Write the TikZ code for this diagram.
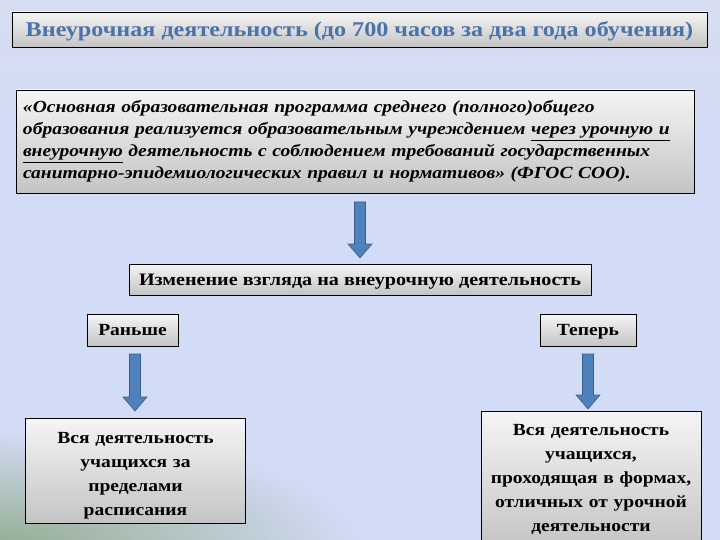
\documentclass[tikz,border=0pt]{standalone}
\usepackage{fontspec}
\setmainfont{Liberation Serif}[FakeStretch=1.15]
\usetikzlibrary{calc,fadings}
\definecolor{bgtop}{RGB}{220,222,230}
\definecolor{bgmid}{RGB}{211,220,246}
\definecolor{bgbot}{RGB}{176,190,192}
\definecolor{bggreen}{RGB}{146,172,142}
\definecolor{titleblue}{RGB}{76,114,172}
\definecolor{arrowfill}{RGB}{79,129,189}
\definecolor{arrowline}{RGB}{56,93,138}
\definecolor{boxgray}{RGB}{196,196,196}
\pgfdeclareverticalshading{bgshade}{100bp}{color(0bp)=(bgbot); color(20bp)=(bgmid); color(62bp)=(bgmid); color(100bp)=(bgtop)}
\tikzfading[name=cornerfade, inner color=transparent!0, outer color=transparent!100]
\tikzset{
  box/.style={draw=black, line width=0.8pt, top color=white!96!black, bottom color=boxgray, inner sep=0pt, font=\bfseries},
  oneline/.style={text height=15pt, text depth=4pt},
  barrow/.style={fill=arrowfill, draw=arrowline, line width=0.6pt,
    to path={let \p1=(\tikztostart), \p2=(\tikztotarget) in
      (\x1-5.5pt,\y1) -- (\x1+5.5pt,\y1) -- (\x1+5.5pt,\y2+14pt) -- (\x1+12pt,\y2+14pt)
      -- (\x1,\y2) -- (\x1-12pt,\y2+14pt) -- (\x1-5.5pt,\y2+14pt) -- cycle}}
}
\begin{document}
\begin{tikzpicture}[x=1pt,y=-1pt]
\useasboundingbox (0,0) rectangle (720,540);
\shade[shading=bgshade] (0,0) rectangle (720,540);
\fill[bggreen, path fading=cornerfade, opacity=0.95] (0,545) ellipse (360 and 115);

\node[box, text height=18pt, text depth=4pt, minimum width=695, minimum height=35, font=\bfseries\fontsize{21}{24}\selectfont, text=titleblue] (title) at (359.5,29.5)
  {Внеурочная деятельность (до 700 часов за два года обучения)};

\node[box, minimum width=678, minimum height=103, text width=664, align=left, font=\bfseries\itshape\fontsize{17}{22}\selectfont] (quote) at (355,141.5)
  {«Основная образовательная программа среднего (полного)общего\\
   образования реализуется образовательным учреждением \underline{через урочную и}\\
   \underline{внеурочную} деятельность с соблюдением требований государственных\\
   санитарно-эпидемиологических правил и нормативов» (ФГОС СОО).};

\node[box, oneline, minimum width=462, minimum height=31, font=\bfseries\fontsize{17.5}{20}\selectfont] (change) at (360,279.5)
  {Изменение взгляда на внеурочную деятельность};

\node[box, oneline, minimum width=91, minimum height=32, font=\bfseries\fontsize{17}{20}\selectfont] (before) at (132.5,330)
  {Раньше};
\node[box, oneline, minimum width=96, minimum height=32, font=\bfseries\fontsize{17}{20}\selectfont] (now) at (588,330)
  {Теперь};

\node[box, minimum width=220, minimum height=105, text width=210, text height=21pt, align=center, font=\bfseries\fontsize{17}{24}\selectfont] (old) at (135.5,470.5)
  {Вся деятельность\\ учащихся за\\ пределами\\ расписания};
\node[box, anchor=north, minimum width=220, minimum height=136, text width=210, align=center, font=\bfseries\fontsize{17}{24}\selectfont] (new) at (591,411)
  {Вся деятельность\\ учащихся,\\ проходящая в формах,\\ отличных от урочной\\ деятельности};

\coordinate (a1t) at (360,202);
\coordinate (a1b) at (360,258);
\coordinate (a2t) at (135,354);
\coordinate (a2b) at (135,411);
\coordinate (a3t) at (588,354);
\coordinate (a3b) at (588,409);
\draw[barrow] (a1t) to (a1b);
\draw[barrow] (a2t) to (a2b);
\draw[barrow] (a3t) to (a3b);
\end{tikzpicture}
\end{document}
